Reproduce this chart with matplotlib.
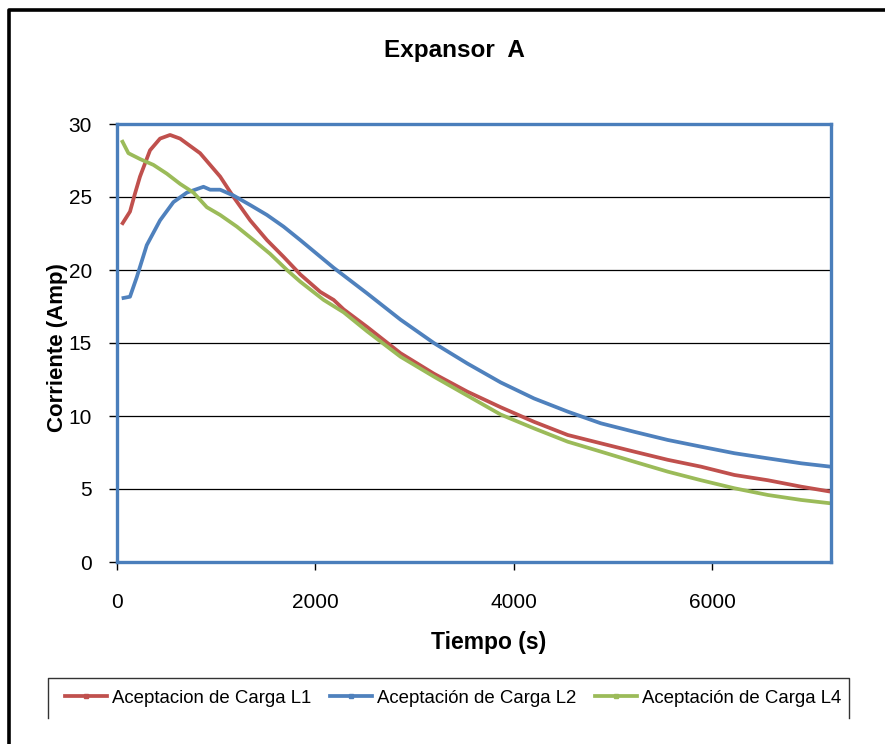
import matplotlib
matplotlib.use("Agg")
import matplotlib.pyplot as plt
from matplotlib.lines import Line2D

plt.rcParams['font.family'] = ['Liberation Sans', 'DejaVu Sans']

# ---- data ----
t_l1 = [47, 131, 182, 232, 333, 434, 535, 636, 838, 1040, 1175, 1343, 1512, 1680, 1848,
        2050, 2185, 2286, 2522, 2859, 3195, 3532, 3869, 4206, 4545, 4879, 5215, 5553,
        5889, 6226, 6563, 6899, 7195]
i_l1 = [23.1, 24.0, 25.25, 26.4, 28.2, 29.0, 29.25, 29.0, 28.0, 26.4, 25.0, 23.4, 22.05,
        20.9, 19.7, 18.5, 17.95, 17.3, 16.1, 14.3, 12.9, 11.67, 10.6, 9.6, 8.7, 8.13,
        7.56, 7.0, 6.53, 5.96, 5.6, 5.16, 4.82]

t_l2 = [47, 131, 199, 300, 434, 569, 704, 872, 939, 1040, 1175, 1343, 1512, 1680, 1848,
        2185, 2522, 2859, 3195, 3532, 3869, 4206, 4545, 4879, 5215, 5553, 5889, 6226,
        6563, 6899, 7195]
i_l2 = [18.06, 18.17, 19.5, 21.7, 23.4, 24.65, 25.3, 25.7, 25.5, 25.5, 25.1, 24.45, 23.77,
        22.97, 22.05, 20.15, 18.4, 16.6, 15.0, 13.6, 12.3, 11.2, 10.3, 9.5, 8.92, 8.36,
        7.9, 7.45, 7.1, 6.76, 6.53]

t_l4 = [47, 115, 232, 367, 502, 636, 771, 906, 1040, 1209, 1377, 1545, 1714, 1848, 2084,
        2286, 2522, 2859, 3195, 3532, 3869, 4206, 4545, 4879, 5215, 5553, 5889, 6226,
        6563, 6899, 7195]
i_l4 = [28.9, 28.0, 27.6, 27.2, 26.6, 25.9, 25.3, 24.3, 23.77, 22.97, 22.05, 21.1, 20.0,
        19.2, 17.95, 17.1, 15.8, 14.06, 12.7, 11.4, 10.1, 9.15, 8.24, 7.56, 6.87, 6.19,
        5.6, 5.05, 4.59, 4.25, 4.02]

series_names = ["Aceptacion de Carga L1", "Aceptación de Carga L2", "Aceptación de Carga L4"]
colors = ["#C0504D", "#4F81BD", "#9BBB59"]

x_ticks = [0, 2000, 4000, 6000]
y_ticks = [0, 5, 10, 15, 20, 25, 30]

W, H = 885, 744
fig = plt.figure(figsize=(W / 100, H / 100), dpi=100)
fig.patch.set_facecolor("white")

ax = fig.add_axes([117 / W, 1 - 562 / H, 714 / W, 438 / H])

data = [(t_l1, i_l1), (t_l2, i_l2), (t_l4, i_l4)]
handles = []
for (t, i), name, c in zip(data, series_names, colors):
    ax.plot(t, i, color=c, lw=2.7, solid_joinstyle='round', solid_capstyle='butt',
            zorder=3)
    handles.append(Line2D([], [], color=c, lw=2.7, marker='s', ms=3,
                          mec=c, mfc=c, label=name))

ax.set_xlim(0, 7200)
ax.set_ylim(0, 30)
ax.set_xticks(x_ticks)
ax.set_yticks(y_ticks)
ax.tick_params(axis='both', direction='out', length=6, width=1, color='black',
               labelsize=15)
ax.tick_params(axis='x', pad=16)
ax.tick_params(axis='y', pad=12)
ax.yaxis.grid(True, color='black', lw=0.9)
ax.set_axisbelow(True)
for s in ax.spines.values():
    s.set_color('#4A7EBB')
    s.set_linewidth(2.4)
    s.set_zorder(5)

fig.text(454 / W, 1 - 51 / H, "Expansor  A", ha='center', va='center',
         fontsize=17.5, fontweight='bold')
fig.text(57 / W, 1 - 348 / H, "Corriente (Amp)", ha='center', va='center',
         rotation=90, fontsize=16, fontweight='bold')
fig.text(489 / W, 1 - 643 / H, "Tiempo (s)", ha='center', va='center',
         fontsize=16.5, fontweight='bold')

leg = fig.legend(handles=handles, loc='center left', ncol=3,
                 bbox_to_anchor=(65 / W, 1 - 698 / H), bbox_transform=fig.transFigure,
                 frameon=False, fontsize=13.4, borderpad=0, borderaxespad=0,
                 handlelength=2.25, handletextpad=0.28, columnspacing=1.0,
                 markerscale=1.0)

# legend frame (top, left, right edges)
fig.add_artist(Line2D([48 / W, 48 / W, 849 / W, 849 / W],
                      [1 - 718 / H, 1 - 678 / H, 1 - 678 / H, 1 - 718 / H],
                      transform=fig.transFigure, color='#333333', lw=1.0))
# outer chart frame
fig.add_artist(Line2D([9 / W, 9 / W, 1.0], [0.0, 1 - 10 / H, 1 - 10 / H],
                      transform=fig.transFigure, color='black', lw=2.6))

fig.savefig("out.png", dpi=100)
